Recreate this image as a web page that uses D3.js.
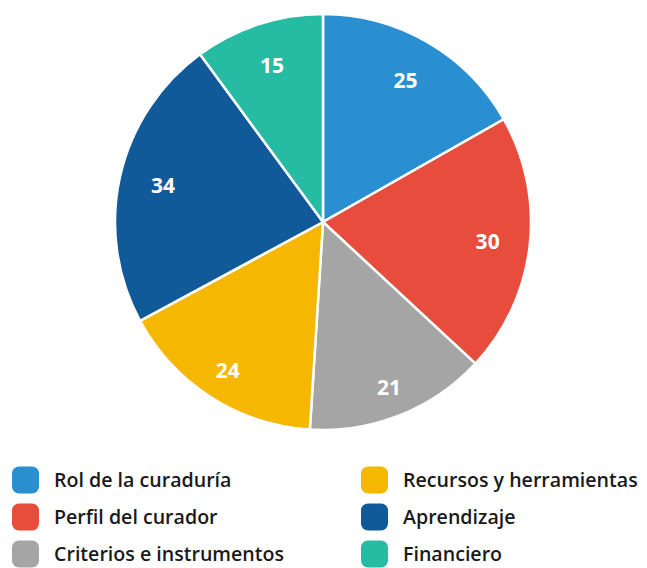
<!DOCTYPE html>
<html>
<head>
<meta charset="utf-8">
<script src="https://cdn.jsdelivr.net/npm/d3@7"></script>
<style>
  body { margin: 0; background: #fff; }
  svg { display: block; font-family: "Open Sans", sans-serif; }
</style>
</head>
<body>
<div id="chart"></div>
<script>
const categories = ["Rol de la curaduría", "Perfil del curador", "Criterios e instrumentos",
  "Recursos y herramientas", "Aprendizaje", "Financiero"];
const values = [25, 30, 21, 24, 34, 15];
const colors = ["#2a8fd0", "#e74c3c", "#a5a5a5", "#f5b700", "#115a9a", "#26bba3"];

const width = 647, height = 568;
const cx = 323, cy = 222, radius = 208;

const data = categories.map((c, i) => ({ name: c, value: values[i], color: colors[i] }));

const svg = d3.select("#chart").append("svg")
  .attr("width", width)
  .attr("height", height);

const pie = d3.pie().value(d => d.value).sort(null);
const arc = d3.arc().innerRadius(0).outerRadius(radius);

// labels sit a bit further out on the lower slices
function labelPos(d) {
  const a = (d.startAngle + d.endAngle) / 2;
  const r = 164 + 15 * Math.max(0, -Math.cos(a));
  return [Math.sin(a) * r, -Math.cos(a) * r];
}

const g = svg.append("g").attr("transform", `translate(${cx},${cy})`);

g.selectAll("path")
  .data(pie(data))
  .enter()
  .append("path")
  .attr("d", arc)
  .attr("fill", d => d.data.color)
  .attr("stroke", "#fff")
  .attr("stroke-width", 2.5);

g.selectAll("text")
  .data(pie(data))
  .enter()
  .append("text")
  .attr("transform", d => `translate(${labelPos(d)})`)
  .attr("text-anchor", "middle")
  .attr("dy", "0.35em")
  .attr("fill", "#fff")
  .attr("font-weight", "bold")
  .attr("font-size", 21)
  .text(d => d.data.value);

// Legend, two columns of three
const legend = svg.append("g");
const item = legend.selectAll("g")
  .data(data)
  .enter()
  .append("g")
  .attr("transform", (d, i) => `translate(${i < 3 ? 12 : 361},${480 + (i % 3) * 37})`);

item.append("rect")
  .attr("x", 0)
  .attr("y", -13.5)
  .attr("width", 27)
  .attr("height", 27)
  .attr("rx", 7)
  .attr("fill", d => d.color);

item.append("text")
  .attr("x", 42)
  .attr("dy", "0.35em")
  .attr("font-size", 19.6)
  .attr("font-weight", 600)
  .attr("fill", "#1a1a1a")
  .text(d => d.name);
</script>
</body>
</html>
